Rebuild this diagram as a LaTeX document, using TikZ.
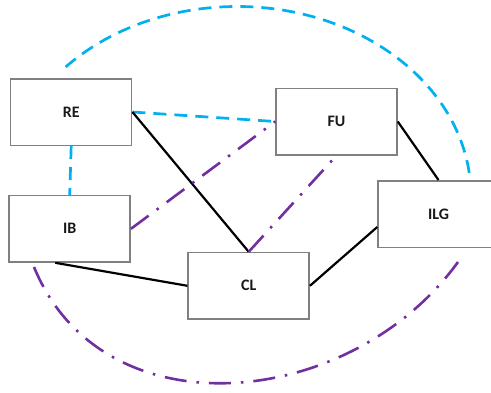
\documentclass[tikz,border=0pt]{standalone}
\usepackage{fontspec}
\setmainfont{Carlito}

\definecolor{linkcyan}{HTML}{00B0F0}
\definecolor{linkpurple}{HTML}{7030A0}
\definecolor{boxgray}{HTML}{808080}

\begin{document}
\begin{tikzpicture}[x=1pt,y=-1pt,line join=miter]
\tikzset{
  unit/.style={draw=boxgray,line width=1.5pt,fill=white,minimum width=121pt,
    minimum height=66.5pt,font=\fontsize{16}{19}\selectfont\bfseries,text=black!90},
  cyanlink/.style={linkcyan,line width=2.7pt,dash pattern=on 13pt off 8pt},
  purplelink/.style={linkpurple,line width=2.6pt,dash pattern=on 22pt off 10pt on 2.5pt off 10pt},
  solidlink/.style={black,line width=2.2pt}}
\clip (0,0) rectangle (491,392);
% ---------- outer ring ----------
\draw[cyanlink] (237,196) ++(-7:234 and 189.5)
  arc[start angle=-7,end angle=-138.7,x radius=234,y radius=189.5];
\draw[purplelink] (34,267) .. controls (103,435) and (351,410) .. (458,262);
% ---------- units ----------
\node[unit] (RE)  at (71.2,112)    {RE};
\node[unit] (FU)  at (336.5,121.5) {FU};
\node[unit] (IB)  at (69.7,228.8)  {IB};
\node[unit] (CL)  at (248.7,285.8) {CL};
\node[unit] (ILG) at (438.5,214)   {ILG};
% ---------- links ----------
\draw[cyanlink]   (RE.east)  -- (FU.west);
\draw[cyanlink]   (RE.south) -- (IB.north);
\draw[solidlink]  (RE.east)  -- (CL.north);
\draw[purplelink] (IB.east)  -- (FU.west);
\draw[purplelink] (CL.north) -- (FU.south);
\draw[solidlink]  (IB.247)   -- (CL.west);
\draw[solidlink]  (CL.east)  -- (ILG.192);
\draw[solidlink]  (FU.east)  -- (ILG.north);
\end{tikzpicture}
\end{document}
